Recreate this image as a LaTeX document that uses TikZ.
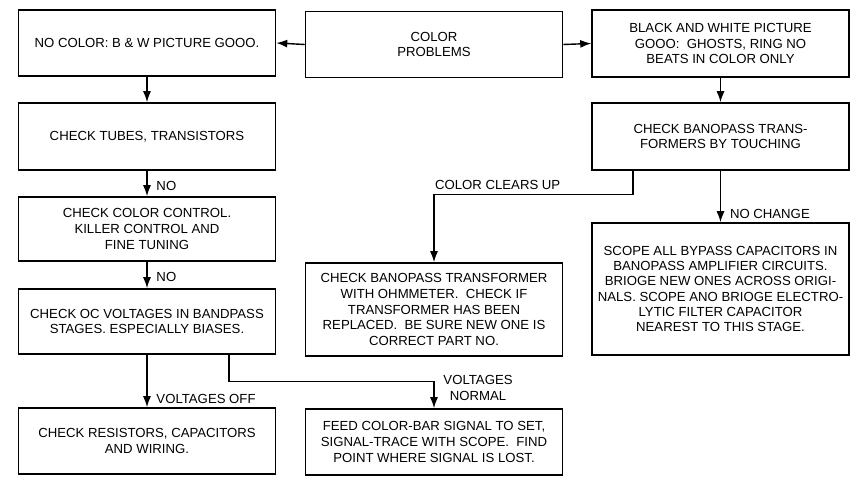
\documentclass[tikz,border=0pt]{standalone}
\usepackage{fontspec}
\setmainfont{Liberation Sans}
\usetikzlibrary{arrows.meta,positioning,calc}

\begin{document}
\begin{tikzpicture}[x=0.02cm,y=-0.02cm,
  chkbox/.style={draw,line width=0.9pt,minimum width=5.14cm,minimum height=1.32cm,
    align=center,inner sep=3pt,font=\fontsize{7.5}{9}\selectfont},
  chkarrow/.style={line width=0.8pt,-{Latex[length=2.2mm,width=1.6mm]}},
  chklabel/.style={font=\fontsize{7.5}{9}\selectfont,align=center,inner xsep=5pt,inner ysep=2.5pt}
]
  \useasboundingbox (0,0) rectangle (861,482);
  % Top row
  \node[chkbox] (problems) at (434,44.5) {COLOR\\PROBLEMS};
  \node[chkbox] (nocolor) at (147,43) {NO COLOR: B \& W PICTURE GOOO.};
  \node[chkbox,minimum height=1.34cm] (bwgood) at (720.5,43.5) {
    BLACK AND WHITE PICTURE\\
    GOOO:\ \ GHOSTS, RING NO\\
    BEATS IN COLOR ONLY};
  % Left column: no color
  \node[chkbox,minimum height=1.34cm] (tubes) at (147,136.5) {CHECK TUBES, TRANSISTORS};
  \node[chkbox,minimum height=1.28cm] (controls) at (147,229) {
    CHECK COLOR CONTROL.\\
    KILLER CONTROL AND\\
    FINE TUNING};
  \node[chkbox,minimum height=1.30cm] (dcvolts) at (147,321.5) {
    CHECK OC VOLTAGES IN BANDPASS\\
    STAGES. ESPECIALLY BIASES.};
  \node[chkbox] (resistors) at (147,441) {
    CHECK RESISTORS, CAPACITORS\\
    AND WIRING.};
  % Middle column
  \node[chkbox,minimum height=1.86cm] (ohmmeter) at (434,309.5) {
    CHECK BANOPASS TRANSFORMER\\
    WITH OHMMETER.\ \ CHECK IF\\
    TRANSFORMER HAS BEEN\\
    REPLACED.\ \ BE SURE NEW ONE IS\\
    CORRECT PART NO.};
  \node[chkbox] (colorbar) at (434,442) {
    FEED COLOR-BAR SIGNAL TO SET,\\
    SIGNAL-TRACE WITH SCOPE.\ \ FIND\\
    POINT WHERE SIGNAL IS LOST.};
  % Right column: color faults only
  \node[chkbox,minimum height=1.34cm] (touching) at (720.5,136.5) {
    CHECK BANOPASS TRANS-\\
    FORMERS BY TOUCHING};
  \node[chkbox,minimum height=2.64cm,font=\fontsize{7.5}{8.7}\selectfont] (bypass) at (720.5,289) {
    SCOPE ALL BYPASS CAPACITORS IN\\
    BANOPASS AMPLIFIER CIRCUITS.\\
    BRIOGE NEW ONES ACROSS ORIGI-\\
    NALS. SCOPE ANO BRIOGE ELECTRO-\\
    LYTIC FILTER CAPACITOR\\
    NEAREST TO THIS STAGE.};
  % Connectors
  \draw[chkarrow] (problems.west) -- (nocolor.east);
  \draw[chkarrow] (problems.east) -- (bwgood.west);
  \draw[chkarrow] (nocolor.south) -- (tubes.north);
  \draw[chkarrow] (tubes.south) -- node[chklabel,pos=0.6,right] {NO} (controls.north);
  \draw[chkarrow] (controls.south) -- node[chklabel,pos=0.57,right] {NO} (dcvolts.north);
  \draw[chkarrow] (dcvolts.south) -- node[chklabel,pos=0.84,right] {VOLTAGES OFF} (resistors.north);
  \draw[chkarrow] ([xshift=1.64cm]dcvolts.south) -- ++(0,27)
    -| node[chklabel,pos=0.62,right] {VOLTAGES\\NORMAL} (colorbar.north);
  \draw[chkarrow] (bwgood.south) -- (touching.north);
  \draw[chkarrow] (touching.south) -- node[chklabel,pos=0.83,right] {NO CHANGE} (bypass.north);
  \draw[chkarrow] ([xshift=-1.75cm]touching.south) -- ++(0,24)
    -| node[chklabel,pos=0.34,above] {COLOR CLEARS UP} (ohmmeter.north);
\end{tikzpicture}
\end{document}
